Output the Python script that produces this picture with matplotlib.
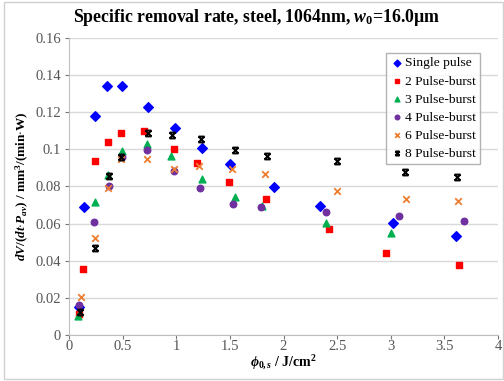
import numpy as np
import matplotlib.pyplot as plt
from matplotlib.patches import Rectangle
from matplotlib.path import Path

plt.rcParams['font.family'] = 'Liberation Serif'
plt.rcParams['mathtext.fontset'] = 'custom'
plt.rcParams['mathtext.rm'] = 'Liberation Serif:bold'
plt.rcParams['mathtext.it'] = 'Liberation Serif:italic:bold'
plt.rcParams['mathtext.bf'] = 'Liberation Serif:bold'

# fluence (J/cm^2) and specific removal rate for each series
single_x = [0.09, 0.14, 0.24, 0.35, 0.49, 0.74, 0.99, 1.24, 1.50, 1.91, 2.34, 3.02, 3.61]
single_y = [0.015, 0.069, 0.118, 0.134, 0.134, 0.1227, 0.1115, 0.101, 0.0922, 0.0795, 0.0697, 0.0605, 0.0535]

burst2_x = [0.09, 0.13, 0.24, 0.36, 0.48, 0.70, 0.98, 1.19, 1.49, 1.84, 2.42, 2.96, 3.64]
burst2_y = [0.011, 0.0357, 0.0935, 0.1038, 0.109, 0.110, 0.100, 0.0924, 0.0822, 0.073, 0.0573, 0.0443, 0.0378]

burst3_x = [0.08, 0.24, 0.36, 0.49, 0.73, 0.95, 1.24, 1.55, 1.80, 2.40, 3.00]
burst3_y = [0.010, 0.0719, 0.086, 0.099, 0.103, 0.0962, 0.0838, 0.0746, 0.0695, 0.0605, 0.0551]

burst4_x = [0.09, 0.23, 0.37, 0.49, 0.73, 0.98, 1.22, 1.53, 1.79, 2.40, 3.08, 3.68]
burst4_y = [0.016, 0.061, 0.0805, 0.096, 0.0995, 0.0886, 0.079, 0.0703, 0.069, 0.066, 0.0643, 0.0616]

burst6_x = [0.11, 0.24, 0.36, 0.48, 0.73, 0.98, 1.21, 1.52, 1.83, 2.50, 3.14, 3.63]
burst6_y = [0.0205, 0.0524, 0.079, 0.095, 0.095, 0.0892, 0.0908, 0.0897, 0.0865, 0.0778, 0.0735, 0.0724]

burst8_x = [0.10, 0.24, 0.37, 0.48, 0.74, 0.96, 1.23, 1.55, 1.85, 2.50, 3.13, 3.62]
burst8_y = [0.0124, 0.047, 0.0854, 0.096, 0.109, 0.108, 0.1054, 0.0995, 0.0962, 0.0935, 0.088, 0.0849]

# Excel-like "star" marker: an x closed by bars on top and bottom
star = Path([(-1, -1), (1, 1), (-1, 1), (1, -1), (-1, 1), (1, 1), (-1, -1), (1, -1)],
            [Path.MOVETO, Path.LINETO] * 4)

fig = plt.figure(figsize=(5.04, 3.81), dpi=100)
ax = fig.add_axes([0.137, 0.121, 0.851, 0.779])

# outer chart frame
fig.patches.append(Rectangle((0.008, 0.005), 0.99, 0.99, transform=fig.transFigure,
                             fill=False, edgecolor='#d0d0d0', linewidth=1.0))

ax.scatter(single_x, single_y, marker='D', s=24, color='#0000ff', label='Single pulse', zorder=3)
ax.scatter(burst2_x, burst2_y, marker='s', s=22, color='#ff0000', label='2 Pulse-burst', zorder=3)
ax.scatter(burst3_x, burst3_y, marker='^', s=24, color='#00b050', label='3 Pulse-burst', zorder=3)
ax.scatter(burst4_x, burst4_y, marker='o', s=22, color='#7030a0', label='4 Pulse-burst', zorder=3)
ax.scatter(burst6_x, burst6_y, marker='x', s=22, color='#ed7d31', linewidths=1.3,
           label='6 Pulse-burst', zorder=3)
ax.scatter(burst8_x, burst8_y, marker=star, s=18, color='black', linewidths=1.4,
           label='8 Pulse-burst', zorder=3)

ax.set_xlim(0, 4)
ax.set_ylim(0, 0.16)
ax.set_xticks(np.arange(0, 4.01, 0.5))
ax.set_xticklabels(['0', '0.5', '1', '1.5', '2', '2.5', '3', '3.5', '4'])
ax.set_yticks(np.arange(0, 0.161, 0.02))
ax.set_yticklabels(['0', '0.02', '0.04', '0.06', '0.08', '0.1', '0.12', '0.14', '0.16'])
ax.tick_params(labelsize=10.5, colors='#777777', length=3, width=0.8, labelcolor='#555555')
ax.tick_params(axis='x', pad=1)
ax.tick_params(axis='y', pad=3)
ax.yaxis.grid(True, color='#d9d9d9', linewidth=1.0)
ax.set_axisbelow(True)
for s in ['top', 'right']:
    ax.spines[s].set_visible(False)
for s in ['left', 'bottom']:
    ax.spines[s].set_color('#bfbfbf')

fig.suptitle(r'Specific removal rate, steel, 1064nm, $w_0$=16.0µm',
             x=0.51, y=0.955, va='center', fontsize=12.8, fontweight='bold')
ax.set_xlabel(r'$\phi_{0,s}$ / J/cm$^2$', fontsize=10, fontweight='bold', labelpad=0)
ax.set_ylabel(r'$dV/(dt{\cdot}P_{av})$ / mm$^3$/(min$\cdot$W)', fontsize=9.5,
              fontweight='bold', labelpad=3)

leg = ax.legend(loc='upper right', bbox_to_anchor=(0.958, 0.95), fontsize=9.7,
                frameon=True, fancybox=False, edgecolor='#a0a0a0', handletextpad=0.1,
                borderpad=0.3, labelspacing=0.42, handlelength=1.0, borderaxespad=0,
                scatterpoints=1, markerscale=0.7)
leg.get_frame().set_linewidth(1.0)

fig.savefig('out.png', dpi=100)
